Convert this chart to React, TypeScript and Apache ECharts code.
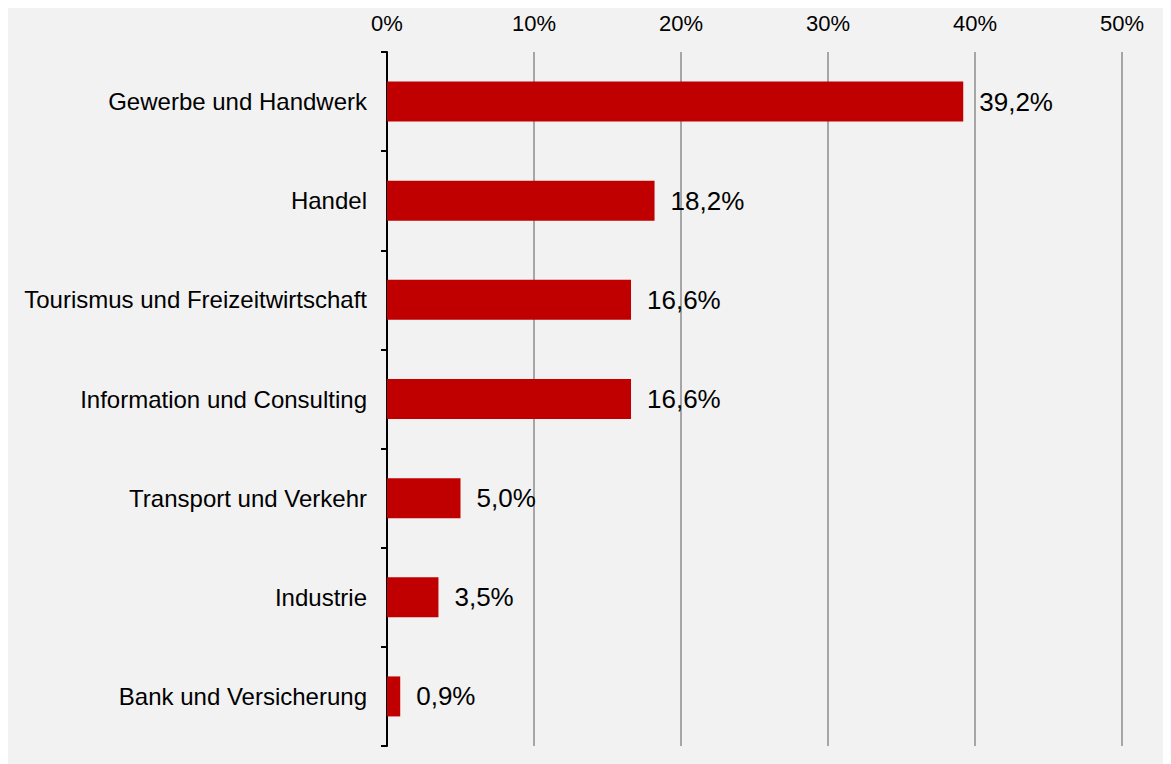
import React, { useEffect, useRef } from "react";
import * as echarts from "echarts";

const categories = [
  "Gewerbe und Handwerk",
  "Handel",
  "Tourismus und Freizeitwirtschaft",
  "Information und Consulting",
  "Transport und Verkehr",
  "Industrie",
  "Bank und Versicherung",
];
const values = [39.2, 18.2, 16.6, 16.6, 5.0, 3.5, 0.9];
const axisMin = 0;
const axisMax = 50;
const axisInterval = 10;

const fmt = (v: number) => v.toFixed(1).replace(".", ",") + "%";

export default function App() {
  const ref = useRef<HTMLDivElement>(null);
  useEffect(() => {
    if (!ref.current) return;
    const chart = echarts.init(ref.current, undefined, { renderer: "svg" });
    chart.setOption({
      animation: false,
      backgroundColor: "#f2f2f2",
      textStyle: { fontFamily: "Liberation Sans, Arial, sans-serif" },
      grid: { left: 379, right: 49, top: 44, bottom: 18, containLabel: false },
      xAxis: {
        type: "value",
        position: "top",
        min: axisMin,
        max: axisMax,
        interval: axisInterval,
        axisLine: { show: false },
        axisTick: { show: false },
        axisLabel: {
          color: "#000",
          fontSize: 22,
          margin: 18,
          formatter: (v: number) => v + "%",
        },
        splitLine: { show: true, lineStyle: { color: "#a6a6a6", width: 2 } },
      },
      yAxis: {
        type: "category",
        data: categories,
        inverse: true,
        axisLine: { show: true, lineStyle: { color: "#000", width: 2 } },
        axisTick: { show: true, inside: false, length: 6, lineStyle: { color: "#000", width: 2 } },
        axisLabel: { color: "#000", fontSize: 24, margin: 20 },
        splitLine: { show: false },
      },
      series: [
        {
          type: "bar",
          data: values,
          barWidth: 40,
          itemStyle: { color: "#c00000" },
          label: {
            show: true,
            position: "right",
            distance: 16,
            color: "#000",
            fontSize: 26,
            formatter: (p: any) => fmt(p.value),
          },
        },
      ],
    });
    return () => chart.dispose();
  }, []);
  return <div ref={ref} style={{ width: 1163, height: 756 }} />;
}
